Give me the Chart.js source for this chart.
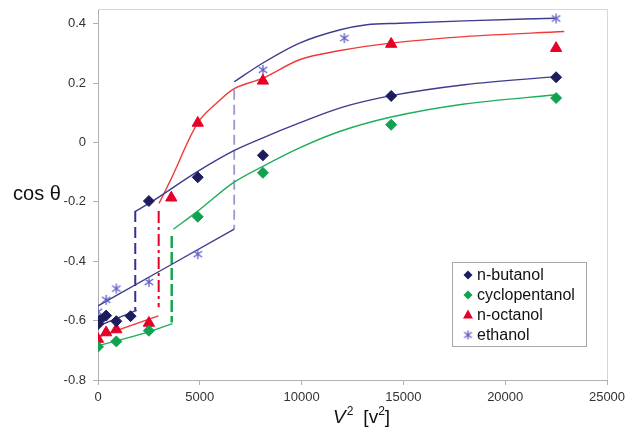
<!DOCTYPE html>
<html>
<head>
<meta charset="utf-8">
<script src="https://cdn.jsdelivr.net/npm/chart.js@4/dist/chart.umd.min.js"></script>
<style>
  html, body { margin: 0; padding: 0; background: #fff; }
  #wrap { width: 627px; height: 434px; }
</style>
</head>
<body>
<div id="wrap"><canvas id="chart" width="627" height="434"></canvas></div>
<script>
const seriesNames = ["n-butanol", "cyclopentanol", "n-octanol", "ethanol"];

// measured contact angle, V^2 against cos(theta)
const butanolV2 = [0, 100, 400, 900, 1600, 2500, 4900, 8100, 14400, 22500];
const butanolCos = [-0.612, -0.598, -0.583, -0.602, -0.585, -0.197, -0.117, -0.043, 0.157, 0.220];
const cyclopentanolV2 = [0, 900, 2500, 4900, 8100, 14400, 22500];
const cyclopentanolCos = [-0.688, -0.670, -0.634, -0.250, -0.102, 0.060, 0.150];
const octanolV2 = [0, 400, 900, 2500, 3600, 4900, 8100, 14400, 22500];
const octanolCos = [-0.662, -0.640, -0.630, -0.608, -0.186, 0.066, 0.208, 0.332, 0.318];
const ethanolV2 = [0, 400, 900, 2500, 4900, 8100, 12100, 22500];
const ethanolCos = [-0.570, -0.530, -0.492, -0.470, -0.376, 0.245, 0.352, 0.418];

// fitted curves, low and high voltage branches
const butanolLowFit = [[0, -0.618], [1900, -0.565]];
const butanolHighFit = [[1830, -0.232], [2500, -0.205], [4900, -0.097], [6650, -0.028], [8100, 0.016],
  [9900, 0.066], [11900, 0.117], [14400, 0.158], [18000, 0.195], [22500, 0.222]];
const cyclopentanolLowFit = [[0, -0.685], [900, -0.668], [2500, -0.638], [3650, -0.610]];
const cyclopentanolHighFit = [[3700, -0.292], [4900, -0.231], [6650, -0.135], [8100, -0.080], [9900, -0.018],
  [11900, 0.038], [14400, 0.086], [18000, 0.130], [22500, 0.161]];
const octanolLowFit = [[0, -0.655], [2970, -0.584]];
const octanolHighFit = [[3000, -0.205], [3540, -0.130], [4900, 0.066], [5830, 0.133], [6650, 0.180],
  [8100, 0.217], [9900, 0.279], [11900, 0.310], [14400, 0.335], [18000, 0.357], [22900, 0.374]];
const ethanolLowFit = [[0, -0.550], [6690, -0.292]];
const ethanolHighFit = [[6690, 0.205], [8100, 0.268], [9900, 0.335], [11900, 0.380], [13200, 0.397],
  [14800, 0.402], [18000, 0.410], [22450, 0.419]];

// jumps between the branches
const butanolJump = [[1830, -0.231], [1830, -0.567]];
const octanolJump = [[2980, -0.231], [2980, -0.555]];
const cyclopentanolJump = [[3620, -0.315], [3620, -0.606]];
const ethanolJump = [[6690, 0.178], [6690, -0.292]];

const xTicks = [0, 5000, 10000, 15000, 20000, 25000];
const yTicks = [-0.8, -0.6, -0.4, -0.2, 0, 0.2, 0.4];

const NAVY = "#1c1c5e";
const NAVY_LINE = "#3d3d8f";
const GREEN = "#10a24f";
const GREEN_LINE = "#1fae5a";
const RED = "#e60028";
const RED_LINE = "#f03a3a";
const STAR = "#5f5fc4";
const LAVENDER = "#9a9acb";
const FONT = "'Liberation Sans', Arial, sans-serif";

// asterisk marker: an X with a vertical bar through it
function makeStar(size, color) {
  const c = document.createElement("canvas");
  c.width = c.height = size;
  const g = c.getContext("2d");
  g.strokeStyle = color;
  g.lineWidth = 1.3;
  const m = size / 2, r = size / 2 - 1;
  g.beginPath();
  g.moveTo(m, m - r); g.lineTo(m, m + r);
  g.moveTo(m - r * 0.85, m - r * 0.6); g.lineTo(m + r * 0.85, m + r * 0.6);
  g.moveTo(m - r * 0.85, m + r * 0.6); g.lineTo(m + r * 0.85, m - r * 0.6);
  g.stroke();
  return c;
}
const starMarker = makeStar(12, STAR);
const starLegend = makeStar(11, STAR);

const zip = (xs, ys) => xs.map((x, i) => ({ x: x, y: ys[i] }));
const pts = arr => arr.map(p => ({ x: p[0], y: p[1] }));

function fitLine(data, color, width) {
  return {
    data: pts(data), showLine: true, pointRadius: 0, borderColor: color,
    borderWidth: width || 1.4, tension: 0.35, cubicInterpolationMode: "monotone", order: 2
  };
}
function jumpLine(data, color, dash, width) {
  return {
    data: pts(data), showLine: true, pointRadius: 0, borderColor: color,
    borderWidth: width, borderDash: dash, order: 2
  };
}
function markers(xs, ys, style, color, radius) {
  return {
    data: zip(xs, ys), showLine: false, pointStyle: style, pointRadius: radius,
    backgroundColor: color, borderColor: color, borderWidth: 1, order: 1
  };
}

const datasets = [
  markers(butanolV2, butanolCos, "rectRot", NAVY, 5.5),
  markers(cyclopentanolV2, cyclopentanolCos, "rectRot", GREEN, 5.5),
  markers(octanolV2, octanolCos, "triangle", RED, 6.5),
  markers(ethanolV2, ethanolCos, starMarker, STAR, 6),
  fitLine(butanolLowFit, NAVY_LINE),
  fitLine(butanolHighFit, NAVY_LINE),
  fitLine(cyclopentanolLowFit, GREEN_LINE),
  fitLine(cyclopentanolHighFit, GREEN_LINE),
  fitLine(octanolLowFit, RED_LINE),
  fitLine(octanolHighFit, RED_LINE),
  fitLine(ethanolLowFit, NAVY_LINE),
  fitLine(ethanolHighFit, NAVY_LINE),
  jumpLine(butanolJump, "#33338f", [11, 5], 2),
  jumpLine(octanolJump, RED, [12, 4, 3, 4], 2),
  jumpLine(cyclopentanolJump, "#14a84a", [12, 4], 2.5),
  jumpLine(ethanolJump, LAVENDER, [10, 5], 1.8)
];

function drawMarker(ctx, style, x, y, r, color) {
  ctx.save();
  ctx.fillStyle = color;
  ctx.beginPath();
  if (style === "rectRot") {
    ctx.moveTo(x, y - r); ctx.lineTo(x + r, y); ctx.lineTo(x, y + r); ctx.lineTo(x - r, y);
    ctx.closePath(); ctx.fill();
  } else if (style === "triangle") {
    ctx.moveTo(x, y - r); ctx.lineTo(x + r * 0.9, y + r * 0.65); ctx.lineTo(x - r * 0.9, y + r * 0.65);
    ctx.closePath(); ctx.fill();
  } else {
    ctx.drawImage(style, x - style.width / 2, y - style.height / 2);
  }
  ctx.restore();
}

const extras = {
  id: "extras",
  beforeDatasetsDraw(chart) {
    const { ctx, chartArea: a } = chart;
    ctx.save();
    ctx.strokeStyle = "#d6d6d6";
    ctx.lineWidth = 1;
    ctx.beginPath();
    ctx.moveTo(a.left, a.top + 0.5);
    ctx.lineTo(a.right + 0.5, a.top + 0.5);
    ctx.lineTo(a.right + 0.5, a.bottom);
    ctx.stroke();
    ctx.restore();
  },
  afterDraw(chart) {
    const { ctx } = chart;
    ctx.save();
    ctx.fillStyle = "#111";
    ctx.textBaseline = "middle";
    // y axis title
    ctx.font = "20px " + FONT;
    ctx.textAlign = "center";
    ctx.fillText("cos \u03b8", 37, 194);
    // x axis title
    ctx.textAlign = "left";
    ctx.font = "italic 19px " + FONT;
    let x = 333;
    ctx.fillText("V", x, 418);
    x += ctx.measureText("V").width + 1;
    ctx.font = "12px " + FONT;
    ctx.fillText("2", x, 412);
    x += ctx.measureText("2").width + 10;
    ctx.font = "19px " + FONT;
    ctx.fillText("[v", x, 418);
    x += ctx.measureText("[v").width;
    ctx.font = "12px " + FONT;
    ctx.fillText("2", x, 412);
    x += ctx.measureText("2").width;
    ctx.font = "19px " + FONT;
    ctx.fillText("]", x, 418);

    // legend box
    const lx = 452, ly = 262, lw = 134, lh = 84;
    ctx.fillStyle = "#fff";
    ctx.fillRect(lx, ly, lw, lh);
    ctx.strokeStyle = "#a8a8a8";
    ctx.lineWidth = 1;
    ctx.strokeRect(lx + 0.5, ly + 0.5, lw, lh);
    const styles = ["rectRot", "rectRot", "triangle", starLegend];
    const colors = [NAVY, GREEN, RED, STAR];
    const sizes = [4.5, 4.5, 5.5, 0];
    ctx.font = "16px " + FONT;
    ctx.textAlign = "left";
    seriesNames.forEach((name, i) => {
      const ry = ly + 13 + i * 20;
      drawMarker(ctx, styles[i], 468, ry, sizes[i], colors[i]);
      ctx.fillStyle = "#111";
      ctx.fillText(name, 477, ry + 1);
    });
    ctx.restore();
  }
};

// keep the plot frame where it is, labels may hang over the edges
function noPadding(s) {
  s.paddingTop = 0; s.paddingBottom = 0; s.paddingLeft = 0; s.paddingRight = 0;
}

new Chart(document.getElementById("chart"), {
  type: "scatter",
  data: { datasets: datasets },
  plugins: [extras],
  options: {
    responsive: false,
    animation: false,
    layout: { padding: { left: 0, right: 20, top: 9, bottom: 0 } },
    plugins: { legend: { display: false }, tooltip: { enabled: false } },
    scales: {
      x: {
        type: "linear", min: 0, max: 25000,
        afterBuildTicks: s => { s.ticks = xTicks.map(v => ({ value: v })); },
        afterFit: s => { s.height = 54; noPadding(s); },
        grid: { drawOnChartArea: false, drawTicks: true, tickLength: 5, color: "#b0b0b0" },
        border: { color: "#b0b0b0" },
        ticks: {
          color: "#333", font: { size: 13, family: FONT }, padding: 5, maxRotation: 0,
          callback: v => String(v)
        }
      },
      y: {
        type: "linear", min: -0.8, max: 0.45,
        afterBuildTicks: s => { s.ticks = yTicks.map(v => ({ value: v })); },
        afterFit: s => { s.width = 98; noPadding(s); },
        grid: { drawOnChartArea: false, drawTicks: true, tickLength: 5, color: "#b0b0b0" },
        border: { color: "#b0b0b0" },
        ticks: {
          color: "#333", font: { size: 13, family: FONT }, padding: 7,
          callback: v => String(Math.round(v * 10) / 10)
        }
      }
    }
  }
});
</script>
</body>
</html>
